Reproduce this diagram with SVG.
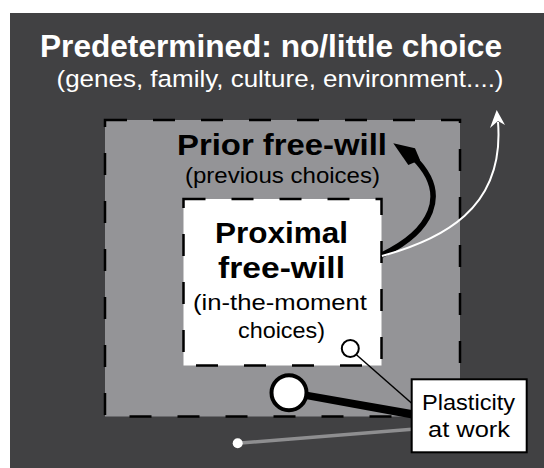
<svg xmlns="http://www.w3.org/2000/svg" width="544" height="468" viewBox="0 0 544 468">
  <style>
    .t { font-family: "Liberation Sans", Arial, sans-serif; text-anchor: middle; }
    .b { font-weight: bold; }
    .dash { stroke: #000; stroke-width: 2.5; stroke-dasharray: 22 26; }
  </style>
  <rect x="0" y="0" width="544" height="468" fill="#ffffff"/>
  <g id="predetermined">
    <rect x="10" y="13" width="534" height="455" fill="#414143"/>
    <text class="t b" x="271" y="57" font-size="32" fill="#ffffff" textLength="462" lengthAdjust="spacingAndGlyphs">Predetermined: no/little choice</text>
    <text class="t" x="280" y="87" font-size="24.5" fill="#ffffff" textLength="447" lengthAdjust="spacingAndGlyphs">(genes, family, culture, environment....)</text>
  </g>
  <g id="prior">
    <rect x="105" y="120" width="355" height="296.5" fill="#949497" class="dash"/>
    <text class="t b" x="282" y="155" font-size="30" fill="#000" textLength="210" lengthAdjust="spacingAndGlyphs">Prior free-will</text>
    <text class="t" x="282.5" y="183" font-size="21.5" fill="#000" textLength="195" lengthAdjust="spacingAndGlyphs">(previous choices)</text>
  </g>
  <g id="proximal">
    <rect x="183.5" y="199" width="198" height="166.5" fill="#ffffff" class="dash"/>
    <text class="t b" x="281.5" y="243" font-size="30" fill="#000" textLength="133" lengthAdjust="spacingAndGlyphs">Proximal</text>
    <text class="t b" x="281.5" y="278" font-size="30" fill="#000" textLength="127" lengthAdjust="spacingAndGlyphs">free-will</text>
    <text class="t" x="280" y="310" font-size="21.5" fill="#000" textLength="174" lengthAdjust="spacingAndGlyphs">(in-the-moment</text>
    <text class="t" x="281.5" y="338" font-size="21.5" fill="#000" textLength="87" lengthAdjust="spacingAndGlyphs">choices)</text>
  </g>
  <g id="connectors">
    <path d="M382,255 C430,232 452,195 413,157" fill="none" stroke="#000" stroke-width="5.5"/>
    <polygon points="393.3,143.3 415,148.3 420,160 408.3,165" fill="#000"/>
    <path d="M382,256 C440,240 505,210 498,122" fill="none" stroke="#fff" stroke-width="2"/>
    <polygon points="496.7,110 505,125 498,121 490,128" fill="#fff"/>
    <line x1="356.7" y1="355" x2="412" y2="403.5" stroke="#000" stroke-width="1.5"/>
    <polygon points="300,390.5 300,398 412,418.5 412,410" fill="#000"/>
    <line x1="237.7" y1="443.3" x2="412" y2="429.3" stroke="#8e8e90" stroke-width="3.5"/>
  </g>
  <g id="marker-small">
    <circle cx="350.3" cy="348.5" r="8.5" fill="#fff" stroke="#000" stroke-width="2"/>
  </g>
  <g id="marker-large">
    <circle cx="289" cy="392.7" r="17.5" fill="#fff" stroke="#000" stroke-width="4"/>
  </g>
  <g id="marker-dot">
    <circle cx="237.7" cy="443.3" r="5" fill="#fff"/>
  </g>
  <g id="plasticity">
    <rect x="411.7" y="379.3" width="115" height="73" fill="#fff" stroke="#000" stroke-width="2"/>
    <text class="t" x="468.5" y="410" font-size="22.5" fill="#000" textLength="93" lengthAdjust="spacingAndGlyphs">Plasticity</text>
    <text class="t" x="469" y="436.7" font-size="22.5" fill="#000" textLength="82" lengthAdjust="spacingAndGlyphs">at work</text>
  </g>
</svg>
